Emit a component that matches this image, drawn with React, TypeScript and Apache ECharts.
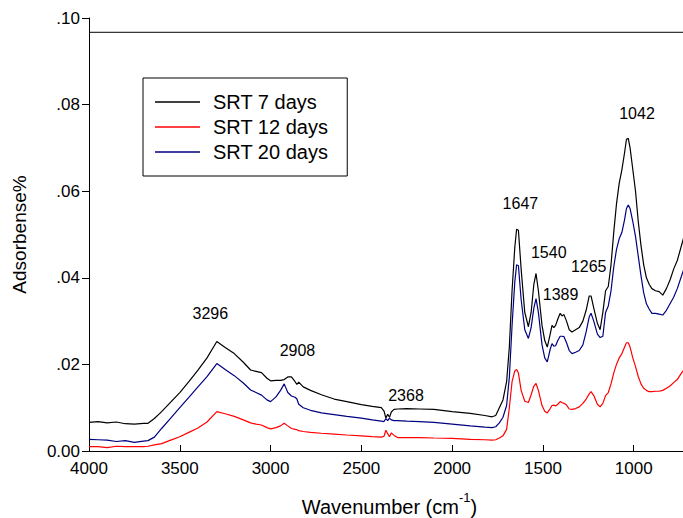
import React, { useEffect, useRef } from "react";
import * as echarts from "echarts";

const wavenumbers = [
  4000, 3950, 3900, 3850, 3800, 3750, 3700, 3675, 3640, 3600,
  3550, 3500, 3450, 3400, 3350, 3296, 3250, 3200, 3150, 3110,
  3080, 3050, 3020, 3000, 2970, 2945, 2925, 2905, 2885, 2865,
  2855, 2845, 2820, 2780, 2720, 2650, 2580, 2500, 2440, 2390,
  2375, 2365, 2355, 2345, 2335, 2320, 2300, 2250, 2180, 2100,
  2000, 1900, 1820, 1780, 1760, 1740, 1720, 1700, 1685, 1670,
  1655, 1645, 1635, 1620, 1600, 1580, 1565, 1550, 1538, 1525,
  1505, 1490, 1476, 1460, 1450, 1440, 1430, 1418, 1405, 1395,
  1384, 1370, 1355, 1340, 1320, 1300, 1280, 1262, 1245, 1235,
  1220, 1200, 1185, 1170, 1155, 1140, 1125, 1110, 1095, 1080,
  1065, 1050, 1040, 1030, 1020, 1005, 990, 975, 960, 945,
  930, 915, 900, 880, 860, 840, 820, 800, 780, 760,
  740, 720, 700,
];

const srt7 = [
  0.0066, 0.0068, 0.0065, 0.0067, 0.0063, 0.0062, 0.0064, 0.0064, 0.0075, 0.0091,
  0.0113, 0.0135, 0.016, 0.0187, 0.0215, 0.0253, 0.0239, 0.0225, 0.0205, 0.0187,
  0.0184, 0.0181, 0.0168, 0.0162, 0.0163, 0.0163, 0.0165, 0.0171, 0.0171, 0.016,
  0.0154, 0.0159, 0.0148, 0.014, 0.013, 0.012, 0.0114, 0.0107, 0.0103, 0.01,
  0.0092, 0.0076, 0.0085, 0.0078, 0.009, 0.0096, 0.0097, 0.0098, 0.0097, 0.0096,
  0.0091, 0.0087, 0.0082, 0.0079, 0.0082, 0.01, 0.0118, 0.016, 0.024, 0.037,
  0.047, 0.0512, 0.051, 0.042, 0.032, 0.0287, 0.032, 0.0385, 0.041, 0.037,
  0.029, 0.0255, 0.024, 0.027, 0.029, 0.0285, 0.029, 0.0305, 0.0318, 0.0312,
  0.0315, 0.03, 0.028, 0.0275, 0.028, 0.0285, 0.03, 0.0325, 0.0358, 0.0358,
  0.033, 0.0295, 0.028, 0.032, 0.037, 0.038, 0.043, 0.0505, 0.057, 0.0618,
  0.065, 0.069, 0.072, 0.0722, 0.07, 0.065, 0.06, 0.053, 0.0475, 0.043,
  0.04, 0.0385, 0.0375, 0.037, 0.0368, 0.036, 0.0375, 0.0395, 0.042, 0.044,
  0.047, 0.05, 0.053,
];

const srt12 = [
  0.001, 0.001, 0.0008, 0.0011, 0.001, 0.001, 0.001, 0.0011, 0.0014, 0.0017,
  0.0025, 0.0033, 0.0043, 0.0053, 0.0067, 0.0091, 0.0086, 0.008, 0.0072, 0.0065,
  0.0062, 0.006, 0.0054, 0.0051, 0.0054, 0.0058, 0.0064, 0.0058, 0.0052, 0.005,
  0.0049, 0.0047, 0.0045, 0.0043, 0.0041, 0.0039, 0.0037, 0.0035, 0.0033, 0.0032,
  0.0034, 0.0048, 0.004, 0.0033, 0.0042, 0.0036, 0.0031, 0.0031, 0.0031, 0.003,
  0.0029, 0.0027, 0.0026, 0.0025, 0.0026, 0.003, 0.0035, 0.005, 0.01, 0.016,
  0.0185, 0.0188, 0.018, 0.014, 0.0115, 0.0112, 0.013, 0.015, 0.0156, 0.014,
  0.0105, 0.0092, 0.0088, 0.0098, 0.0105, 0.0106, 0.0104, 0.0108, 0.0114, 0.0112,
  0.011, 0.0106, 0.0097, 0.0096, 0.0098, 0.0102, 0.011, 0.012, 0.0132, 0.0137,
  0.0128, 0.0108, 0.0102, 0.011, 0.0128, 0.0135, 0.0155, 0.018, 0.02, 0.0215,
  0.0225, 0.024, 0.025, 0.025, 0.024, 0.0215, 0.0195, 0.0172, 0.0155, 0.0145,
  0.014, 0.0137, 0.0137, 0.0138, 0.0138, 0.014, 0.0145, 0.015, 0.0158, 0.0165,
  0.0178, 0.019, 0.02,
];

const srt20 = [
  0.0027, 0.0026, 0.0025, 0.0022, 0.0024, 0.002, 0.0023, 0.0024, 0.0032, 0.0052,
  0.0076, 0.01, 0.0124, 0.0148, 0.0172, 0.0202, 0.0188, 0.0174, 0.0157, 0.0141,
  0.0135, 0.0129, 0.0118, 0.0114, 0.0125, 0.014, 0.0155, 0.0135, 0.0127, 0.0124,
  0.012, 0.0108, 0.01, 0.0094, 0.0088, 0.0084, 0.008, 0.0076, 0.0072, 0.0069,
  0.0068, 0.0075, 0.007, 0.0076, 0.0072, 0.007, 0.007, 0.0069, 0.0068, 0.0066,
  0.0062, 0.0058, 0.0055, 0.0054, 0.0056, 0.0065, 0.0078, 0.0105, 0.017, 0.029,
  0.039, 0.043, 0.0428, 0.035, 0.028, 0.026, 0.0285, 0.033, 0.0352, 0.032,
  0.0245, 0.0215, 0.0206, 0.0235, 0.0248, 0.0242, 0.0243, 0.0255, 0.0265, 0.0265,
  0.0264, 0.025, 0.0232, 0.0225, 0.0228, 0.0232, 0.0245, 0.0275, 0.031, 0.0318,
  0.03, 0.027, 0.0262, 0.0265, 0.032, 0.0335, 0.037, 0.0425, 0.0465, 0.049,
  0.0505, 0.0535, 0.056, 0.0568, 0.056, 0.053, 0.0495, 0.045, 0.0405, 0.0365,
  0.034, 0.0328, 0.0318, 0.0318, 0.0316, 0.0314, 0.0325, 0.034, 0.0355, 0.0375,
  0.04, 0.0425, 0.045,
];

const seriesNames = ["SRT 7 days", "SRT 12 days", "SRT 20 days"];
const seriesColors = ["#000000", "#ff0000", "#000080"];

const xTicks = [4000, 3500, 3000, 2500, 2000, 1500, 1000];

// peak annotations: label text, wavenumber position, absorbance position
const peakLabels = ["3296", "2908", "2368", "1647", "1540", "1389", "1265", "1042"];
const peakLabelWn = [3332, 2852, 2254, 1624, 1468, 1403, 1248, 982];
const peakLabelAbs = [0.0318, 0.0231, 0.0128, 0.0572, 0.0459, 0.0362, 0.0427, 0.078];

// top frame line of the plot (drawn as a data line across the x range)
const frameTop = 0.0967;
const frameWn = [690, 4000];

const FONT = 'Arial, "Liberation Sans", sans-serif';

export default function App() {
  const ref = useRef<HTMLDivElement>(null);
  useEffect(() => {
    if (!ref.current) return;
    const chart = echarts.init(ref.current, null, { renderer: "svg" });
    const toPairs = (vals: number[]) => wavenumbers.map((w, i) => [w, vals[i]]);
    const all = [srt7, srt12, srt20];
    const lineSeries = all.map((vals, i) => ({
      name: seriesNames[i],
      type: "line",
      data: toPairs(vals),
      symbol: "none",
      smooth: false,
      lineStyle: { color: seriesColors[i], width: 1.2 },
      itemStyle: { color: seriesColors[i] },
      z: 3 - i,
    }));

    chart.setOption({
      animation: false,
      textStyle: { fontFamily: FONT },
      grid: {
        left: 89,
        top: 18,
        width: 601,
        bottom: 67,
        containLabel: false,
        outerBoundsMode: "none",
      },
      legend: {
        data: seriesNames,
        orient: "vertical",
        left: 143,
        top: 78,
        padding: [14, 19, 14, 12],
        icon: "rect",
        itemWidth: 45,
        itemHeight: 1.4,
        itemGap: 5,
        borderColor: "#000",
        borderWidth: 1,
        borderRadius: 0,
        selectedMode: false,
        textStyle: { fontSize: 20, color: "#000", fontFamily: FONT, padding: [0, 0, 0, 8] },
      },
      xAxis: {
        type: "value",
        inverse: true,
        min: 690,
        max: 4000,
        name: "{b|Wavenumber (cm}{s|-1}{b|)}",
        nameLocation: "middle",
        nameGap: 40,
        nameTextStyle: {
          rich: {
            b: { fontSize: 20, color: "#000", fontFamily: FONT, verticalAlign: "bottom", lineHeight: 26 },
            s: { fontSize: 13, color: "#000", fontFamily: FONT, verticalAlign: "top", lineHeight: 26 },
          },
        },
        axisLine: { show: true, onZero: false, lineStyle: { color: "#000", width: 1 } },
        axisTick: { show: true, inside: true, length: 6, customValues: xTicks, lineStyle: { color: "#000" } },
        axisLabel: {
          customValues: xTicks,
          color: "#000",
          fontSize: 17,
          margin: 9,
          fontFamily: FONT,
          formatter: (v: number) => String(v),
        },
        splitLine: { show: false },
      },
      yAxis: {
        type: "value",
        min: 0,
        max: 0.1,
        interval: 0.02,
        name: "Adsorbense%",
        nameLocation: "middle",
        nameGap: 60,
        nameTextStyle: { fontSize: 19, color: "#000", fontFamily: FONT },
        axisLine: { show: true, lineStyle: { color: "#000", width: 1 } },
        axisTick: { show: true, inside: false, length: 7, lineStyle: { color: "#000" } },
        axisLabel: {
          color: "#000",
          fontSize: 17,
          margin: 9,
          fontFamily: FONT,
          formatter: (v: number) => (v === 0 ? "0.00" : "." + Math.round(v * 100).toString().padStart(2, "0")),
        },
        splitLine: { show: false },
      },
      series: [
        ...lineSeries,
        {
          name: "frame",
          type: "line",
          data: frameWn.map((w) => [w, frameTop]),
          symbol: "none",
          silent: true,
          lineStyle: { color: "#000", width: 1 },
          z: 1,
        },
        {
          name: "peaks",
          type: "scatter",
          data: peakLabels.map((t, i) => [peakLabelWn[i], peakLabelAbs[i], t]),
          symbolSize: 0,
          silent: true,
          itemStyle: { color: "#000", opacity: 1 },
          label: {
            show: true,
            position: "inside",
            formatter: (p: any) => p.data[2],
            fontSize: 16,
            color: "#000",
            opacity: 1,
            textBorderWidth: 0,
            textBorderColor: "transparent",
            fontFamily: FONT,
          },
        },
      ],
    });
    return () => chart.dispose();
  }, []);
  return (
    <div
      ref={ref}
      style={{ position: "absolute", left: 0, top: 0, width: 683, height: 518, background: "#fff" }}
    />
  );
}
